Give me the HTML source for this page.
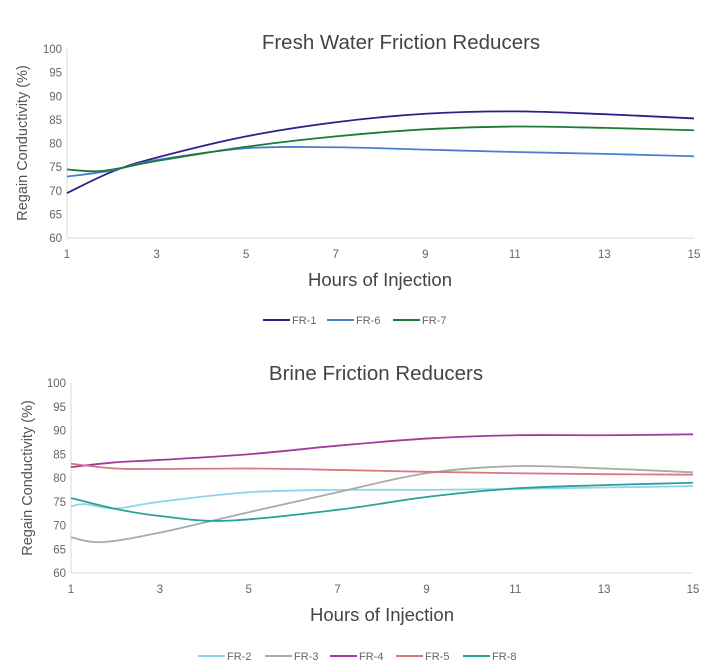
<!DOCTYPE html>
<html><head><meta charset="utf-8"><style>
body{margin:0;background:#fff;}
svg{display:block;font-family:"Liberation Sans",sans-serif;}
</style></head><body>
<svg id="s" width="703" height="669" xmlns="http://www.w3.org/2000/svg">
<text x="401" y="49" font-size="20.5" fill="#444" text-anchor="middle" font-weight="500">Fresh Water Friction Reducers</text>
<text x="376" y="380" font-size="20.5" fill="#444" text-anchor="middle" font-weight="500">Brine Friction Reducers</text>
<text x="380" y="286" font-size="18.5" fill="#444" text-anchor="middle" font-weight="500">Hours of Injection</text>
<text x="382" y="621" font-size="18.5" fill="#444" text-anchor="middle" font-weight="500">Hours of Injection</text>
<text transform="translate(27,143) rotate(-90)" font-size="14.5" fill="#555" text-anchor="middle" font-weight="500">Regain Conductivity (%)</text>
<text transform="translate(32,478) rotate(-90)" font-size="14.5" fill="#555" text-anchor="middle" font-weight="500">Regain Conductivity (%)</text>
<g id="g"></g>
</svg>
<script>
var g=document.getElementById('g'),h='';
function chart(x0,x1,yT,yB,series,leg,ly){
 var X=function(t){return x0+(t-1)*(x1-x0)/14},Y=function(v){return yB-(v-60)*(yB-yT)/40};
 h+='<line x1="'+x0+'" y1="'+yT+'" x2="'+x0+'" y2="'+yB+'" stroke="#d9d9d9"/>';
 h+='<line x1="'+x0+'" y1="'+yB+'" x2="'+x1+'" y2="'+yB+'" stroke="#d9d9d9"/>';
 for(var v=60;v<=100;v+=5)h+='<text x="'+(x0-5)+'" y="'+(Y(v)+4)+'" font-size="11.5" fill="#666" text-anchor="end">'+v+'</text>';
 for(var t=1;t<=15;t+=2)h+='<text x="'+X(t)+'" y="'+(yB+20)+'" font-size="11.5" fill="#666" text-anchor="middle">'+t+'</text>';
 series.forEach(function(s){
  var p=s[1].map(function(q){return [X(q[0]),Y(q[1])]});
  var d='M'+p[0][0]+','+p[0][1];
  for(var i=0;i<p.length-1;i++){
   var a=p[i-1]||p[i],b=p[i],c=p[i+1],e=p[i+2]||c;
   d+=' C'+(b[0]+(c[0]-a[0])/6)+','+(b[1]+(c[1]-a[1])/6)+' '+(c[0]-(e[0]-b[0])/6)+','+(c[1]-(e[1]-b[1])/6)+' '+c[0]+','+c[1];
  }
  h+='<path d="'+d+'" fill="none" stroke="'+s[0]+'" stroke-width="1.8"/>';
 });
 leg.forEach(function(l){
  h+='<line x1="'+l[1]+'" y1="'+ly+'" x2="'+(l[1]+27)+'" y2="'+ly+'" stroke="'+l[0]+'" stroke-width="2"/>';
  h+='<text x="'+(l[1]+29)+'" y="'+(ly+4)+'" font-size="11" fill="#666">'+l[2]+'</text>';
 });
}
chart(67,694,49,238,[
 ['#2e1f8a',[[1,69.5],[2,74],[3,77],[5,81.5],[7,84.5],[9,86.3],[11,86.8],[13,86.2],[15,85.3]]],
 ['#4a7fd0',[[1,73],[2,74.3],[3,76.5],[5,79],[7,79.2],[9,78.7],[11,78.2],[13,77.8],[15,77.3]]],
 ['#1f7a3a',[[1,74.5],[1.8,74.2],[3,76.3],[5,79.3],[7,81.5],[9,83],[11,83.6],[13,83.3],[15,82.8]]]
],[['#2e1f8a',263,'FR-1'],['#4a7fd0',327,'FR-6'],['#1f7a3a',393,'FR-7']],320);
chart(71,693,383,573,[
 ['#8fd3ee',[[1,74],[1.3,74.5],[2,73.6],[3,75],[5,77],[7,77.5],[9,77.5],[11,77.7],[13,78],[15,78.3]]],
 ['#aaaaaa',[[1,67.5],[1.7,66.5],[3,68.5],[5,72.8],[7,77],[9,81],[11,82.5],[13,82],[15,81.2]]],
 ['#a03c9c',[[1,82.3],[2,83.3],[3,83.8],[5,85],[7,86.8],[9,88.3],[11,89],[13,89],[15,89.2]]],
 ['#d47a80',[[1,83],[2,82],[3,81.9],[5,82],[7,81.7],[9,81.3],[11,81],[13,80.8],[15,80.7]]],
 ['#2aa394',[[1,75.8],[2,73.5],[3,72],[4.5,71],[7,73.3],[9,76],[11,77.8],[13,78.5],[15,79]]]
],[['#8fd3ee',198,'FR-2'],['#aaaaaa',265,'FR-3'],['#a03c9c',330,'FR-4'],['#d47a80',396,'FR-5'],['#2aa394',463,'FR-8']],656);
g.innerHTML=h;
</script>
</body></html>
